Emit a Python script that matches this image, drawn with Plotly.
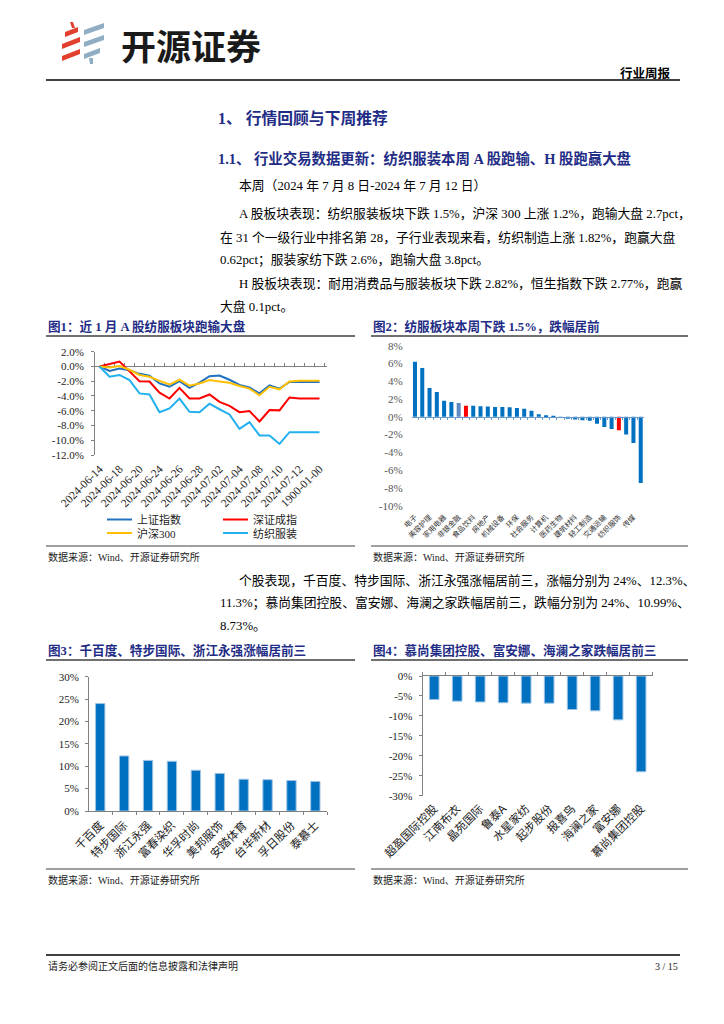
import plotly.graph_objects as go

W, H = 724, 1024
def px(x): return x / W
def py(y): return 1 - y / H

SERIF = "Liberation Serif, Noto Sans CJK SC, serif"
CJK = "Noto Sans CJK SC, sans-serif"
NAVY = "#1F2D86"
BLUE = "#0070C0"

# ---------------- data ----------------
c1_dates = ["2024-06-14", "2024-06-17", "2024-06-18", "2024-06-19", "2024-06-20",
            "2024-06-21", "2024-06-24", "2024-06-25", "2024-06-26", "2024-06-27",
            "2024-06-28", "2024-07-01", "2024-07-02", "2024-07-03", "2024-07-04",
            "2024-07-05", "2024-07-08", "2024-07-09", "2024-07-10", "2024-07-11",
            "2024-07-12", "1900-01-00", "1900-01-00"]
c1_series_names = ["上证指数", "深证成指", "沪深300", "纺织服装"]
c1_sh = [0, -0.6, -0.27, -0.5, -1.0, -1.24, -2.3, -2.75, -2.0, -2.9, -2.2, -1.33,
         -1.24, -1.8, -2.5, -2.85, -3.65, -2.55, -3.0, -2.1, -2.1, -2.1, -2.1]
c1_sz = [0, 0.35, 0.67, -0.67, -2.0, -2.05, -3.55, -4.35, -2.9, -4.35, -4.35, -3.8,
         -4.8, -5.35, -6.2, -6.05, -7.45, -5.9, -5.95, -4.2, -4.35, -4.35, -4.35]
c1_hs300 = [0, -0.13, 0.05, -0.45, -1.15, -1.4, -1.95, -2.45, -1.8, -2.6, -2.3, -1.85,
            -2.05, -2.2, -2.65, -3.0, -3.9, -2.75, -3.1, -2.05, -1.95, -1.95, -1.95]
c1_fz = [0, -1.4, -1.15, -1.85, -3.65, -3.8, -6.2, -5.7, -4.35, -6.15, -6.2, -5.05,
         -5.8, -6.5, -8.45, -7.55, -9.35, -9.35, -10.5, -8.9, -8.9, -8.9, -8.9]
c1_colors = ["#2072C0", "#FF0000", "#FFC000", "#22B0EE"]
c1_yticks = [-12, -10, -8, -6, -4, -2, 0, 2]

c2_names = ["电子", "通信", "美容护理", "银行", "家用电器", "有色金属", "非银金融", "沪深300",
            "食品饮料", "公用事业", "房地产", "汽车", "机械设备", "钢铁", "环保", "建筑装饰",
            "社会服务", "电力设备", "计算机", "国防军工", "医药生物", "石油石化", "建筑材料",
            "基础化工", "轻工制造", "煤炭", "交通运输", "商贸零售", "纺织服饰", "农林牧渔",
            "传媒", "综合"]
c2_values = [6.2, 5.5, 3.25, 2.8, 1.8, 1.68, 1.55, 1.25, 1.25, 1.2, 1.17, 1.1, 1.1, 1.07,
             1.0, 0.9, 0.68, 0.3, 0.17, 0.1, -0.05, -0.12, -0.3, -0.38, -0.45, -0.78,
             -1.15, -1.38, -1.5, -2.0, -2.95, -7.45]
c2_highlight = {"沪深300": "#FF0000", "纺织服饰": "#FF0000", "非银金融": "#5F88C2"}
c2_yticks = [-10, -8, -6, -4, -2, 0, 2, 4, 6, 8]

c3_names = ["千百度", "特步国际", "浙江永强", "富春染织", "华孚时尚", "美邦服饰",
            "安踏体育", "台华新材", "孚日股份", "泰慕士"]
c3_values = [24.0, 12.3, 11.3, 11.1, 9.1, 8.4, 7.1, 7.0, 6.8, 6.6]
c3_yticks = [0, 5, 10, 15, 20, 25, 30]

c4_names = ["超盈国际控股", "江南布衣", "晶苑国际", "鲁泰A", "水星家纺", "起步股份",
            "报喜鸟", "海澜之家", "富安娜", "慕尚集团控股"]
c4_values = [-5.9, -6.3, -6.5, -6.7, -6.8, -6.8, -8.4, -8.73, -10.99, -24.0]
c4_yticks = [-30, -25, -20, -15, -10, -5, 0]

# ---------------- figure ----------------
fig = go.Figure()

# chart 1 : lines
idx = list(range(len(c1_dates)))
for name, vals, col in zip(c1_series_names, [c1_sh, c1_sz, c1_hs300, c1_fz], c1_colors):
    fig.add_trace(go.Scatter(x=idx, y=vals, mode="lines", name=name,
                             line=dict(color=col, width=2), xaxis="x", yaxis="y",
                             showlegend=False, hoverinfo="skip"))
fig.add_trace(go.Scatter(x=[0], y=[0], xaxis="x5", yaxis="y", mode="markers",
                         marker=dict(opacity=0), showlegend=False, hoverinfo="skip"))

# chart 2 : industry bars
c2_colors = [c2_highlight.get(n, BLUE) for n in c2_names]
fig.add_trace(go.Bar(x=c2_names, y=c2_values, marker=dict(color=c2_colors, line=dict(width=0)),
                     width=0.55, xaxis="x2", yaxis="y2", showlegend=False, hoverinfo="skip"))
fig.add_trace(go.Scatter(x=[0], y=[0], xaxis="x6", yaxis="y2", mode="markers",
                         marker=dict(opacity=0), showlegend=False, hoverinfo="skip"))

# chart 3
fig.add_trace(go.Bar(x=c3_names, y=c3_values,
                     marker=dict(color=BLUE, line=dict(color="#9DC3E6", width=1)),
                     width=0.39, xaxis="x3", yaxis="y3", showlegend=False, hoverinfo="skip"))

# chart 4
fig.add_trace(go.Bar(x=c4_names, y=c4_values,
                     marker=dict(color=BLUE, line=dict(color="#9DC3E6", width=1)),
                     width=0.42, xaxis="x4", yaxis="y4", showlegend=False, hoverinfo="skip"))
fig.add_trace(go.Scatter(x=[0], y=[0], xaxis="x7", yaxis="y4", mode="markers",
                         marker=dict(opacity=0), showlegend=False, hoverinfo="skip"))

tickfont = dict(family=SERIF, size=11, color="#222")
AX = "#808080"

# domains
d1x = [px(95), px(327)]
d1y = [py(455), py(351.7)]
d2x = [px(411.7), px(644)]
d2y = [py(505.7), py(345.7)]
d3x = [px(89), px(327.3)]
d3y = [py(811), py(676.7)]
d4x = [px(422.7), px(653.3)]
d4y = [py(795.7), py(676)]

r1y = [min(c1_yticks), max(c1_yticks)]
r2y = [min(c2_yticks), max(c2_yticks)]
zero1 = d1y[0] + (0 - r1y[0]) / (r1y[1] - r1y[0]) * (d1y[1] - d1y[0])
zero2 = d2y[0] + (0 - r2y[0]) / (r2y[1] - r2y[0]) * (d2y[1] - d2y[0])

r1x = [-0.45, len(c1_dates) - 0.25]
r2x = [-0.45, len(c2_names) - 0.55]
r3x = [-0.47, len(c3_names) - 0.5]
r4x = [-0.5, len(c4_names) - 0.47]

def bounds(n):
    return [i - 0.5 for i in range(n + 1)]

base = dict(showgrid=False, zeroline=False)

fig.update_layout(
    width=W, height=H, margin=dict(l=0, r=0, t=0, b=0),
    paper_bgcolor="white", plot_bgcolor="rgba(0,0,0,0)",
    template="none", hovermode=False, showlegend=False,
    # chart 1
    xaxis=dict(**base, domain=d1x, anchor="y", range=r1x, tickmode="array",
               tickvals=idx[::2], ticktext=c1_dates[::2], tickangle=-45,
               showline=False, ticks="", tickfont=dict(family=SERIF, size=11.5, color="#222"),
               ticklabelstandoff=4),
    yaxis=dict(**base, domain=d1y, anchor="x", range=r1y, tickmode="array",
               tickvals=c1_yticks, ticktext=[f"{v:.1f}%" for v in c1_yticks],
               showline=True, linecolor=AX, linewidth=1, ticks="outside", ticklen=3,
               tickcolor=AX, tickfont=tickfont, ticklabelstandoff=5),
    xaxis5=dict(**base, overlaying="x", anchor="free", position=zero1, side="top",
                range=r1x, tickmode="array", tickvals=bounds(len(c1_dates)),
                showticklabels=False, showline=True, linecolor=AX, linewidth=1,
                ticks="outside", ticklen=3, tickcolor=AX, layer="below traces"),
    # chart 2
    xaxis2=dict(**base, domain=d2x, anchor="y2", type="category", range=r2x,
                tickmode="array", tickvals=c2_names[::2], ticktext=c2_names[::2],
                tickangle=-45, showline=False, ticks="",
                tickfont=dict(family=CJK, size=7.3, color="#333"), ticklabelstandoff=5),
    yaxis2=dict(**base, domain=d2y, anchor="x2", range=r2y, tickmode="array",
                tickvals=c2_yticks, ticktext=[f"{v}%" for v in c2_yticks],
                showline=False, ticks="", tickfont=dict(family=SERIF, size=11, color="#555"),
                ticklabelstandoff=8),
    xaxis6=dict(**base, overlaying="x2", anchor="free", position=zero2, side="bottom",
                range=r2x, tickmode="array", tickvals=bounds(len(c2_names)),
                showticklabels=False, showline=True, linecolor="#6A9BD0", linewidth=1,
                ticks="outside", ticklen=2, tickcolor="#6A9BD0"),
    # chart 3
    xaxis3=dict(**base, domain=d3x, anchor="y3", type="category", range=r3x,
                showline=True, linecolor=AX, linewidth=1, ticks="outside",
                tickson="boundaries", ticklen=3, tickcolor=AX, tickangle=-45,
                tickfont=dict(family=CJK, size=11.5, color="#222"), ticklabelstandoff=2),
    yaxis3=dict(**base, domain=d3y, anchor="x3", range=[min(c3_yticks), max(c3_yticks)],
                tickmode="array", tickvals=c3_yticks, ticktext=[f"{v}%" for v in c3_yticks],
                showline=True, linecolor=AX, linewidth=1, ticks="outside", ticklen=3,
                tickcolor=AX, tickfont=tickfont, ticklabelstandoff=4),
    # chart 4
    xaxis4=dict(**base, domain=d4x, anchor="y4", type="category", range=r4x,
                showline=False, ticks="", tickangle=-45,
                tickfont=dict(family=CJK, size=11.5, color="#222"), ticklabelstandoff=3),
    yaxis4=dict(**base, domain=d4y, anchor="x4", range=[min(c4_yticks), max(c4_yticks)],
                tickmode="array", tickvals=c4_yticks, ticktext=[f"{v}%" for v in c4_yticks],
                showline=True, linecolor=AX, linewidth=1, ticks="outside", ticklen=3,
                tickcolor=AX, tickfont=tickfont, ticklabelstandoff=4),
    xaxis7=dict(**base, overlaying="x4", anchor="y4", side="top", range=r4x,
                tickmode="array", tickvals=bounds(len(c4_names)), showticklabels=False,
                showline=True, linecolor=AX, linewidth=1, ticks="outside", ticklen=3,
                tickcolor=AX),
)

shapes = []
annotations = []

def hline(x0, x1, y, color="#000", width=1.0):
    shapes.append(dict(type="line", xref="paper", yref="paper", x0=px(x0), x1=px(x1),
                       y0=py(y), y1=py(y), line=dict(color=color, width=width)))

def text(x, y, s, size=12, color="#000", family=SERIF, anchor="left", bold=False):
    annotations.append(dict(xref="paper", yref="paper", x=px(x), y=py(y),
                            text=f"<b>{s}</b>" if bold else s, showarrow=False,
                            xanchor=anchor, yanchor="middle",
                            font=dict(family=family, size=size, color=color)))

def poly(pts, color):
    path = "M " + " L ".join(f"{px(a)},{py(b)}" for a, b in pts) + " Z"
    shapes.append(dict(type="path", xref="paper", yref="paper", path=path,
                       fillcolor=color, line=dict(width=0)))

# ---- header / logo ----
RED = "#E2402F"
GRY = "#8FAEC3"
poly([(70, 22), (73, 22), (75, 28), (72, 28)], RED)
poly([(65, 32), (78, 27), (78, 32), (65, 37)], RED)
poly([(62, 44), (80, 37), (80, 42), (62, 49)], RED)
poly([(62, 56), (80, 49), (80, 54), (62, 61)], RED)
poly([(84, 30), (104, 23), (104, 28), (84, 35)], GRY)
poly([(84, 42), (104, 35), (104, 40), (84, 47)], GRY)
poly([(84, 54), (100, 48), (100, 53), (84, 59)], GRY)
poly([(89, 58), (93, 58), (93, 64), (90, 64)], GRY)
text(119, 44, "开源证券", size=35, color="#1A1A1A", family=CJK, bold=True)
text(673, 72, "行业周报", size=12.5, color="#000", family=CJK, anchor="right", bold=True)
hline(46, 680, 80, "#000", 1.5)

# ---- headings & body ----
text(216, 118, "1、 行情回顾与下周推荐", size=15.8, color=NAVY, bold=True)
text(216, 158, "1.1、 行业交易数据更新：纺织服装本周 A 股跑输、H 股跑赢大盘", size=14.4, color=NAVY, bold=True)
body = [
    (237, 186, "本周（2024 年 7 月 8 日-2024 年 7 月 12 日）"),
    (237, 213, "A 股板块表现：纺织服装板块下跌 1.5%，沪深 300 上涨 1.2%，跑输大盘 2.7pct，"),
    (218, 237, "在 31 个一级行业中排名第 28，子行业表现来看，纺织制造上涨 1.82%，跑赢大盘"),
    (218, 260, "0.62pct；服装家纺下跌 2.6%，跑输大盘 3.8pct。"),
    (237, 283, "H 股板块表现：耐用消费品与服装板块下跌 2.82%，恒生指数下跌 2.77%，跑赢"),
    (218, 306, "大盘 0.1pct。"),
    (237, 580, "个股表现，千百度、特步国际、浙江永强涨幅居前三，涨幅分别为 24%、12.3%、"),
    (218, 603, "11.3%；慕尚集团控股、富安娜、海澜之家跌幅居前三，跌幅分别为 24%、10.99%、"),
    (218, 626, "8.73%。"),
]
for x, y, s in body:
    text(x, y, s, size=12.8)

# ---- chart frames ----
titles = [
    (46, 326, "图1：近 1 月 A 股纺服板块跑输大盘"),
    (371, 326, "图2：纺服板块本周下跌 1.5%，跌幅居前"),
    (46, 650, "图3：千百度、特步国际、浙江永强涨幅居前三"),
    (371, 650, "图4：慕尚集团控股、富安娜、海澜之家跌幅居前三"),
]
for x, y, s in titles:
    text(x, y, s, size=12.6, color=NAVY, bold=True)
for x0, x1 in [(46, 355), (371, 688)]:
    hline(x0, x1, 336, "#404040", 1.3)
    hline(x0, x1, 546, "#7F7F7F", 1.5)
    hline(x0, x1, 660, "#404040", 1.3)
    hline(x0, x1, 869, "#7F7F7F", 1.5)
for x, y in [(46, 557), (371, 557), (46, 880), (371, 880)]:
    text(x, y, "数据来源：Wind、开源证券研究所", size=10, color="#222")

# ---- chart 1 legend (manual) ----
for k, (name, col) in enumerate(zip(c1_series_names, c1_colors)):
    cx = [107, 223][k % 2]
    ry = [519.5, 533][k // 2]
    shapes.append(dict(type="line", xref="paper", yref="paper", x0=px(cx), x1=px(cx + 25),
                       y0=py(ry), y1=py(ry), line=dict(color=col, width=2)))
    text(cx + 28, ry, name, size=11, color="#222")

# ---- footer ----
hline(46, 680, 955, "#404040", 2)
text(46, 966, "请务必参阅正文后面的信息披露和法律声明", size=10, color="#222")
text(680, 966, "3 / 15", size=10, color="#222", anchor="right")

fig.update_layout(shapes=shapes, annotations=annotations)
fig.write_html("out.html", config={"displayModeBar": False},
               post_script="document.body.style.margin='0';document.body.style.overflow='hidden';")
